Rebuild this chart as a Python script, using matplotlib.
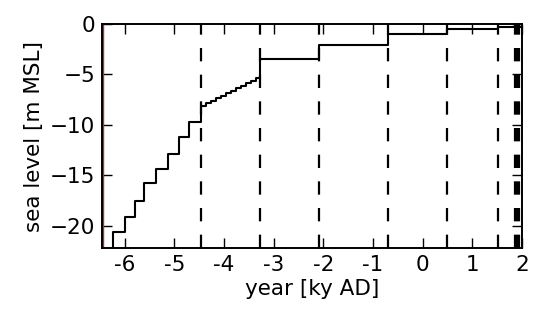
import numpy as np
import matplotlib
matplotlib.use('Agg')
import matplotlib.pyplot as plt

# step edges (ky AD) and sea level held from each edge onward
step_x = [-6.45, -6.24, -6.0, -5.79, -5.6, -5.36, -5.12, -4.9, -4.7,
          -4.46, -4.36, -4.26, -4.16, -4.06, -3.96, -3.86, -3.76, -3.66, -3.56, -3.46, -3.36,
          -3.27, -2.08, -0.69, 0.5, 1.51, 2.0]
step_y = [-23.0, -20.6, -19.1, -17.5, -15.8, -14.4, -12.9, -11.2, -9.7,
          -8.1, -7.85, -7.6, -7.35, -7.1, -6.85, -6.6, -6.35, -6.1, -5.85, -5.6, -5.35,
          -3.5, -2.1, -1.0, -0.5, -0.3, -0.1]

# dashed marker years
mark_x = [-4.46, -3.27, -2.08, -0.69, 0.5, 1.51, 1.87, 1.91, 1.95]

xticks = [-6, -5, -4, -3, -2, -1, 0, 1, 2]
xticklabels = ['-6', '-5', '-4', '-3', '-2', '-1', '0', '1', '2']
yticks = [0, -5, -10, -15, -20]

plt.rcParams['font.family'] = 'DejaVu Sans'
fig = plt.figure(figsize=(5.38, 3.18), dpi=100)
ax = fig.add_axes([0.19, 0.22, 0.78, 0.7045])

for xm in mark_x:
	ax.axvline(xm, color='black', lw=1.6, dashes=(6, 6))
ax.axvline(-6.44, color='#b03030', lw=1.0)
ax.step(step_x, step_y, where='post', color='black', lw=1.5)

ax.set_xlim(-6.45, 2.0)
ax.set_ylim(-22.2, 0)
ax.set_xticks(xticks)
ax.set_xticklabels(xticklabels)
ax.set_yticks(yticks)
ax.tick_params(direction='in', top=True, right=True, length=7, width=1, labelsize=15.5, pad=5)
for s in ax.spines.values():
	s.set_linewidth(1.4)
ax.set_xlabel('year [ky AD]', fontsize=15.5, labelpad=3)
ax.set_ylabel('sea level [m MSL]', fontsize=15.5, labelpad=4)

fig.savefig('out.png', dpi=100)
